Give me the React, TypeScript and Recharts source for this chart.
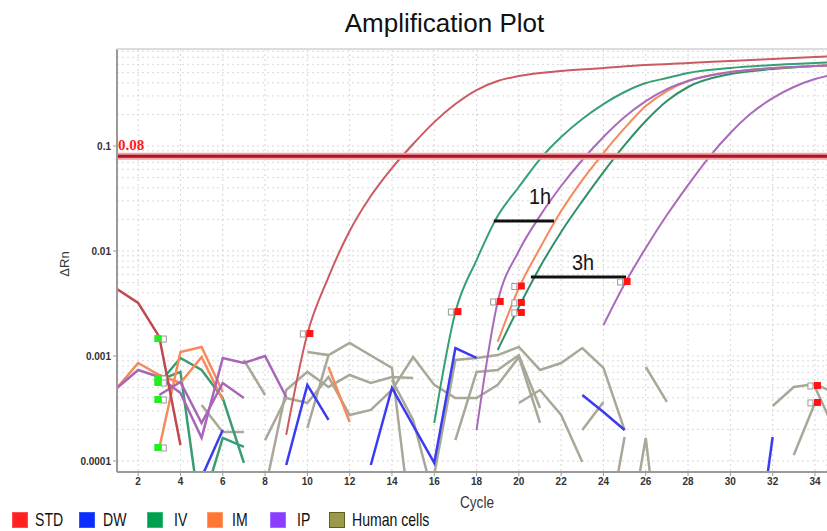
import React from 'react';
import { ComposedChart, Line, XAxis, YAxis, CartesianGrid, ReferenceLine } from 'recharts';

// [cycle, ΔRn] pairs
const stdNoise = [[1, 0.00435], [2, 0.0032], [3, 0.00152], [4, 0.000142]];
const stdCurve = [[9, 0.000177], [10, 0.00162], [11, 0.00565], [12, 0.0155], [13, 0.0334], [14, 0.0617], [15, 0.1045], [16, 0.169], [17, 0.251], [18, 0.341], [19, 0.416], [20, 0.464], [22, 0.518], [24, 0.553], [26, 0.59], [28, 0.617], [30, 0.646], [32, 0.675], [34, 0.705], [35, 0.72]];
const ivCurve1 = [[16, 0.00023], [17, 0.00262], [18, 0.0082], [19, 0.0216], [20, 0.0407], [21, 0.0752], [22, 0.122], [23, 0.181], [24, 0.251], [25, 0.327], [26, 0.398], [27, 0.444], [28, 0.496], [30, 0.553], [32, 0.59], [34, 0.617], [35, 0.63]];
const ivCurve2 = [[19, 0.00114], [20, 0.00293], [21, 0.00705], [22, 0.0152], [23, 0.0299], [24, 0.0565], [25, 0.102], [26, 0.173], [27, 0.268], [28, 0.365], [30, 0.485], [32, 0.541], [34, 0.578], [35, 0.59]];
const imCurve = [[19, 0.00136], [20, 0.00444], [21, 0.0107], [22, 0.024], [23, 0.0474], [24, 0.0858], [25, 0.148], [26, 0.24], [27, 0.334], [28, 0.416], [30, 0.507], [32, 0.553], [34, 0.578], [35, 0.59]];
const ipCurve1 = [[18, 0.000197], [19, 0.00327], [20, 0.01], [21, 0.0216], [22, 0.0416], [23, 0.0736], [24, 0.122], [25, 0.189], [26, 0.268], [27, 0.349], [28, 0.416], [30, 0.507], [32, 0.553], [34, 0.578], [35, 0.59]];
const ipCurve2 = [[24, 0.00197], [25, 0.00485], [26, 0.0107], [27, 0.022], [28, 0.0425], [29, 0.0786], [30, 0.133], [31, 0.206], [32, 0.286], [33, 0.365], [34, 0.435], [35, 0.485]];

const imNoise = [
  [[1, 0.000496], [2, 0.000857], [3, 0.000659], [4, 0.000553], [5, 0.000978], [6, 0.000381]],
  [[3, 0.000133], [4, 0.00109], [5, 0.00122], [6, 0.000454]],
  [[11, 0.000785], [12, 0.000235]],
];
const ipNoise = [
  [[1, 0.000496], [2, 0.000736], [3, 0.000631], [4, 0.000444], [5, 0.000166], [6, 0.000957], [7, 0.000857], [8, 0.001], [9, 0.000407]],
  [[3, 0.000425], [4, 0.000565], [5, 0.00023], [6, 0.000553], [7, 0.000398]],
];
const ivNoise = [
  [[3, 0.00059], [4, 0.000705], [5, 0.000025]],
  [[3, 0.000553], [4, 0.000957], [5, 0.000736], [6, 0.000398], [7, 0.0000957]],
  [[5, 0.000036], [6, 0.000166], [7, 0.000136]],
];
const dwNoise = [
  [[5, 0.00007], [6, 0.000197]],
  [[9, 0.0000916], [10, 0.00053], [11, 0.000246]],
  [[13, 0.0000916], [14, 0.000496], [16, 0.0000957], [17, 0.00119], [18, 0.000957]],
  [[23, 0.000425], [24, 0.000293], [25, 0.000197]],
  [[31, 0.0000057], [32, 0.000169]],
];
const humanNoise = [
  [[5, 0.000341], [6, 0.000189], [7, 0.000189]],
  [[7, 0.000916], [8, 0.000425]],
  [[8, 0.000158], [9, 0.000398], [10, 0.000357], [11, 0.000631], [12, 0.000274], [13, 0.000306], [14, 0.000474], [15, 0.000978], [16, 0.00053], [17, 0.000398], [18, 0.000398], [19, 0.00053], [20, 0.000978], [21, 0.00023]],
  [[10, 0.00109], [11, 0.00102], [12, 0.00133], [14, 0.000769], [15, 0.000017]],
  [[10, 0.000206], [11, 0.00102]],
  [[8, 0.000053], [9, 0.000474], [10, 0.000705], [11, 0.000507], [12, 0.000659], [13, 0.000553], [14, 0.000631], [15, 0.000617]],
  [[14, 0.000591], [15, 0.000246], [16, 0.0000425]],
  [[16, 0.000074], [17, 0.000916], [18, 0.000957], [19, 0.00102], [20, 0.00122], [21, 0.000736], [22, 0.000857], [23, 0.00119], [24, 0.000769], [25, 0.000197]],
  [[17, 0.000158], [18, 0.000705], [19, 0.000736], [20, 0.00102], [21, 0.00032]],
  [[20, 0.000357], [21, 0.000474], [22, 0.000274], [23, 0.0000977]],
  [[23, 0.000197], [24, 0.000365]],
  [[24, 0.000013], [25, 0.000169]],
  [[25, 0.000011], [26, 0.000166], [27, 0.0000033]],
  [[26, 0.000785], [27, 0.000365]],
  [[32, 0.000334], [33, 0.000507], [34, 0.000541], [35, 0.00044]],
  [[33, 0.000114], [34, 0.000357]],
  [[34, 0.000507], [35, 0.000185]],
];

const stdMarks = [[10, 0.00162], [17, 0.00262], [19, 0.00327], [20, 0.00459], [20, 0.0032], [20, 0.00257], [25, 0.00507], [34, 0.000518], [34, 0.000357]];
const ivMarks = [[3, 0.00145], [3, 0.000604], [3, 0.000553], [3, 0.000381], [3, 0.000133]];

const cycleTicks = [2, 4, 6, 8, 10, 12, 14, 16, 18, 20, 22, 24, 26, 28, 30, 32, 34];
const rnTicks = [0.0001, 0.001, 0.01, 0.1];
const threshold = 0.08;
const oneHour = [[18.82, 0.0193], [21.66, 0.0193]];
const threeHour = [[20.57, 0.00565], [25.07, 0.00565]];

const legendItems = [
  { name: 'STD', color: '#ff2020', border: '#ff5050', box: 12, text: 35 },
  { name: 'DW', color: '#0a2cff', border: '#3355ff', box: 79, text: 103 },
  { name: 'IV', color: '#00a050', border: '#33bb77', box: 147, text: 174 },
  { name: 'IM', color: '#ff7733', border: '#ff9966', box: 207, text: 232 },
  { name: 'IP', color: '#8a3cff', border: '#a36aff', box: 270, text: 297 },
  { name: 'Human cells', color: '#9a9a4a', border: '#5e5e22', box: 329, text: 352 },
];

const pts = (rows: number[][]) => rows.map(([x, y]) => ({ x, y }));

const decadeGrid: number[] = [];
[0.0001, 0.001, 0.01, 0.1].forEach((d) => {
  for (let m = 1; m <= 9; m++) decadeGrid.push(d * m);
});

const RedMark = (props: any) => {
  const { cx, cy, index } = props;
  if (cx == null || cy == null) return <g key={index} />;
  return (
    <g key={index}>
      <rect x={cx - 7} y={cy - 3} width={5} height={6} fill="#fff" stroke="#9a9a9a" strokeWidth={1} />
      <rect x={cx - 1} y={cy - 4} width={7} height={7} fill="#ff1414" />
    </g>
  );
};

const GreenMark = (props: any) => {
  const { cx, cy, index } = props;
  if (cx == null || cy == null) return <g key={index} />;
  return (
    <g key={index}>
      <rect x={cx + 2} y={cy - 3} width={5} height={6} fill="#fff" stroke="#9a9a9a" strokeWidth={1} />
      <rect x={cx - 5} y={cy - 4} width={7} height={7} fill="#22ee22" />
    </g>
  );
};

const series = [
  ...humanNoise.map((d) => ({ d, c: '#a9a898', w: 2.5, smooth: false })),
  ...dwNoise.map((d) => ({ d, c: '#3b3bf2', w: 2.5, smooth: false })),
  ...ivNoise.map((d) => ({ d, c: '#3a9c72', w: 2.5, smooth: false })),
  ...imNoise.map((d) => ({ d, c: '#f58a5c', w: 2.5, smooth: false })),
  ...ipNoise.map((d) => ({ d, c: '#a866b8', w: 2.5, smooth: false })),
  { d: stdNoise, c: '#c0484f', w: 2.5, smooth: false },
  { d: stdCurve, c: '#cc5a62', w: 2, smooth: true },
  { d: ivCurve1, c: '#36a074', w: 2, smooth: true },
  { d: ivCurve2, c: '#2f9068', w: 2, smooth: true },
  { d: imCurve, c: '#f5895a', w: 2, smooth: true },
  { d: ipCurve1, c: '#aa6abb', w: 2, smooth: true },
  { d: ipCurve2, c: '#aa6abb', w: 2, smooth: true },
];

export default function App() {
  return (
    <div style={{ position: 'absolute', left: 0, top: 0, width: 827, height: 531, background: '#fff', fontFamily: 'Liberation Sans, Arial, sans-serif', overflow: 'hidden' }}>
      <div style={{ position: 'absolute', left: 0, width: 889, top: 8, textAlign: 'center', fontSize: 26, color: '#111', lineHeight: '30px' }}>
        Amplification Plot
      </div>
      <ComposedChart width={827} height={531} margin={{ top: 49, right: 0, left: 0, bottom: 29 }}>
        <CartesianGrid horizontal={false} stroke="#d6d6d6" strokeDasharray="2 3" />
        {decadeGrid.map((v) => (
          <ReferenceLine key={v} y={v} stroke="#d8d8d8" strokeDasharray="2 3" />
        ))}
        <XAxis
          dataKey="x"
          type="number"
          domain={[1, 34.57]}
          allowDataOverflow
          ticks={cycleTicks}
          height={30}
          tickSize={4}
          axisLine={{ stroke: '#9a9a9a', strokeWidth: 2 }}
          tickLine={{ stroke: '#9a9a9a' }}
          tick={{ fontSize: 10, fill: '#333', fontWeight: 'bold' }}
        />
        <YAxis
          type="number"
          scale="log"
          domain={[0.0000785, 0.84]}
          allowDataOverflow
          ticks={rnTicks}
          width={117}
          tickSize={4}
          tickMargin={2}
          tickFormatter={(v: number) => String(v)}
          axisLine={{ stroke: '#9a9a9a', strokeWidth: 2 }}
          tickLine={{ stroke: '#9a9a9a' }}
          tick={{ fontSize: 10, fill: '#333', fontWeight: 'bold' }}
        />
        {series.map((s, i) => (
          <Line
            key={i}
            data={pts(s.d)}
            dataKey="y"
            type={s.smooth ? 'monotone' : 'linear'}
            stroke={s.c}
            strokeWidth={s.w}
            dot={false}
            activeDot={false}
            isAnimationActive={false}
          />
        ))}
        <ReferenceLine y={threshold} stroke="#eda2a8" strokeWidth={7} />
        <ReferenceLine y={threshold} stroke="#b0121e" strokeWidth={3} />
        <ReferenceLine segment={pts(oneHour)} stroke="#111" strokeWidth={3} />
        <ReferenceLine segment={pts(threeHour)} stroke="#111" strokeWidth={3} />
        <Line data={pts(stdMarks)} dataKey="y" stroke="none" dot={RedMark} activeDot={false} isAnimationActive={false} />
        <Line data={pts(ivMarks)} dataKey="y" stroke="none" dot={GreenMark} activeDot={false} isAnimationActive={false} />
      </ComposedChart>
      <div style={{ position: 'absolute', left: 117, top: 48, width: 710, height: 2, background: '#dcdcdc' }} />
      <div style={{ position: 'absolute', left: 118, top: 137, fontFamily: 'Liberation Serif, Times New Roman, serif', fontWeight: 'bold', fontSize: 15, color: '#ff1a1a', lineHeight: '16px' }}>
        0.08
      </div>
      <div style={{ position: 'absolute', left: 529, top: 185, fontSize: 22, color: '#151515', lineHeight: '24px', transform: 'scaleX(0.9)', transformOrigin: 'left' }}>1h</div>
      <div style={{ position: 'absolute', left: 572, top: 251, fontSize: 22, color: '#151515', lineHeight: '24px', transform: 'scaleX(0.9)', transformOrigin: 'left' }}>3h</div>
      <div style={{ position: 'absolute', left: 460, top: 494, fontSize: 16, color: '#333', lineHeight: '18px', transform: 'scaleX(0.85)', transformOrigin: 'left' }}>Cycle</div>
      <div style={{ position: 'absolute', left: 52, top: 257, fontSize: 13, color: '#333', lineHeight: '14px', transform: 'rotate(-90deg)', transformOrigin: 'center' }}>ΔRn</div>
      {legendItems.map((it) => (
        <React.Fragment key={it.name}>
          <div style={{ position: 'absolute', left: it.box, top: 512, width: 14, height: 14, background: it.color, border: `1px solid ${it.border}` }} />
          <div style={{ position: 'absolute', left: it.text, top: 509, fontSize: 19, color: '#111', lineHeight: '22px', transform: 'scaleX(0.74)', transformOrigin: 'left', whiteSpace: 'nowrap' }}>
            {it.name}
          </div>
        </React.Fragment>
      ))}
    </div>
  );
}
